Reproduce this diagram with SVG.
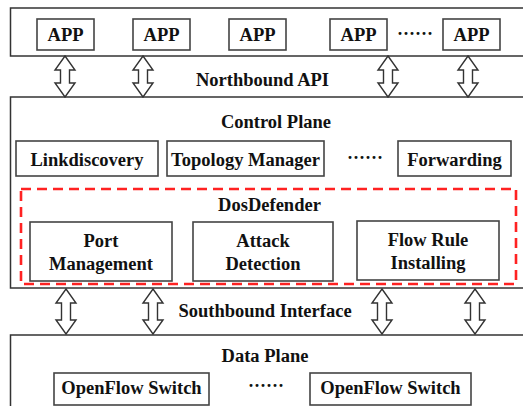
<svg xmlns="http://www.w3.org/2000/svg" width="523" height="406" viewBox="0 0 523 406">
<style>
.layer{fill:#fff;stroke:#333;stroke-width:1.5}
.box{fill:#fff;stroke:#444;stroke-width:1.6}
.t{font-size:18.5px;fill:#111;text-anchor:middle}
.dots{font-size:18px;fill:#111;text-anchor:middle}
.arr{fill:#fff;stroke:#333;stroke-width:1.4;stroke-linejoin:miter}
.dash{fill:none;stroke:#ff2222;stroke-width:2.6;stroke-dasharray:10,6}
</style>
<rect width="523" height="406" fill="#fff"/>
<g font-family="Liberation Serif, Times New Roman, Tinos, DejaVu Serif, serif" font-weight="bold">
<g id="app-layer">
<rect class="layer" x="10.5" y="8" width="520" height="48"/>
<g id="app1"><rect class="box" x="37" y="19" width="57" height="31"/><text class="t" x="65.5" y="41">APP</text></g>
<g id="app2"><rect class="box" x="133" y="19" width="57" height="31"/><text class="t" x="161.5" y="41">APP</text></g>
<g id="app3"><rect class="box" x="229" y="19" width="57" height="31"/><text class="t" x="257.5" y="41">APP</text></g>
<g id="app4"><rect class="box" x="330" y="19" width="57" height="31"/><text class="t" x="358.5" y="41">APP</text></g>
<text class="dots" x="415" y="40">······</text>
<g id="app5"><rect class="box" x="443" y="19" width="57" height="31"/><text class="t" x="471.5" y="41">APP</text></g>
</g>

<g id="control-plane">
<rect class="layer" x="10.5" y="97" width="520" height="191"/>
<text class="t" x="276" y="128">Control Plane</text>
<g id="linkdiscovery"><rect class="box" x="16" y="141" width="142" height="35"/><text class="t" x="87" y="166">Linkdiscovery</text></g>
<g id="topology"><rect class="box" x="167" y="141" width="157" height="35"/><text class="t" x="245.5" y="166">Topology Manager</text></g>
<text class="dots" x="365" y="164">······</text>
<g id="forwarding"><rect class="box" x="398" y="141" width="113" height="35"/><text class="t" x="454.5" y="166">Forwarding</text></g>
</g>

<g id="dosdefender">
<rect class="dash" x="21" y="189" width="495" height="95"/>
<text class="t" x="269.5" y="211">DosDefender</text>
<g id="port"><rect class="box" x="30" y="222" width="142" height="59"/><text class="t" x="101" y="247">Port</text><text class="t" x="101" y="270">Management</text></g>
<g id="attack"><rect class="box" x="193" y="222" width="140" height="59"/><text class="t" x="263" y="247">Attack</text><text class="t" x="263" y="270">Detection</text></g>
<g id="flowrule"><rect class="box" x="357" y="221" width="142" height="59"/><text class="t" x="428" y="246">Flow Rule</text><text class="t" x="428" y="269">Installing</text></g>
</g>

<g id="data-plane">
<rect class="layer" x="10.5" y="335" width="520" height="80"/>
<text class="t" x="265" y="362">Data Plane</text>
<g id="switch1"><rect class="box" x="54" y="373" width="155" height="32"/><text class="t" x="131.5" y="394">OpenFlow Switch</text></g>
<text class="dots" x="266" y="392">······</text>
<g id="switch2"><rect class="box" x="310" y="373" width="161" height="32"/><text class="t" x="390.5" y="394">OpenFlow Switch</text></g>
</g>

<g id="connectors">
<path id="n1" class="arr" d="M65,56 L75,70 L69.5,70 L69.5,83 L75,83 L65,97 L55,83 L60.5,83 L60.5,70 L55,70 Z"/>
<path id="n2" class="arr" d="M143,56 L153,70 L147.5,70 L147.5,83 L153,83 L143,97 L133,83 L138.5,83 L138.5,70 L133,70 Z"/>
<path id="n3" class="arr" d="M388,56 L398,70 L392.5,70 L392.5,83 L398,83 L388,97 L378,83 L383.5,83 L383.5,70 L378,70 Z"/>
<path id="n4" class="arr" d="M468,56 L478,70 L472.5,70 L472.5,83 L478,83 L468,97 L458,83 L463.5,83 L463.5,70 L458,70 Z"/>
<text class="t" x="262.5" y="86">Northbound API</text>
<path id="s1" class="arr" d="M66,289 L76,303 L70.5,303 L70.5,320 L76,320 L66,334 L56,320 L61.5,320 L61.5,303 L56,303 Z"/>
<path id="s2" class="arr" d="M153,289 L163,303 L157.5,303 L157.5,320 L163,320 L153,334 L143,320 L148.5,320 L148.5,303 L143,303 Z"/>
<path id="s3" class="arr" d="M382,289 L392,303 L386.5,303 L386.5,320 L392,320 L382,334 L372,320 L377.5,320 L377.5,303 L372,303 Z"/>
<path id="s4" class="arr" d="M475,289 L485,303 L479.5,303 L479.5,320 L485,320 L475,334 L465,320 L470.5,320 L470.5,303 L465,303 Z"/>
<text class="t" x="265" y="317">Southbound Interface</text>
</g>
</g>
</svg>
